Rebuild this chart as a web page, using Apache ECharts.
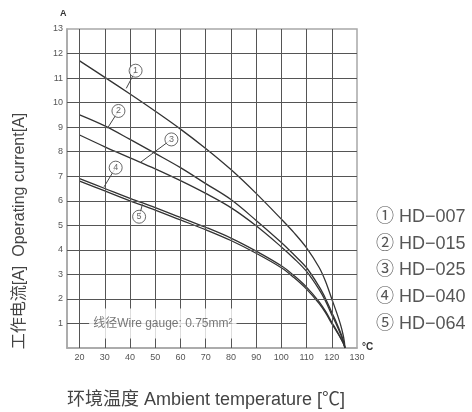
<!DOCTYPE html>
<html>
<head>
<meta charset="utf-8">
<script src="https://cdn.jsdelivr.net/npm/echarts@6/dist/echarts.min.js"></script>
<style>html,body{margin:0;padding:0;background:#fff}#c{width:472px;height:412px}</style>
</head>
<body>
<div id="c"></div>
<script>
// ---- data ----
const seriesNames = ['HD-007', 'HD-015', 'HD-025', 'HD-040', 'HD-064'];
const circled = ['①', '②', '③', '④', '⑤'];
const curve1 = [[20,11.7],[30,11.03],[40,10.35],[50,9.65],[60,8.92],[70,8.13],[80,7.27],[90,6.3],[100,5.25],[105,4.7],[110,4.08],[115,3.28],[117.5,2.72],[120,2.0],[122,1.42],[123.5,0.94],[124.5,0.53],[125,0.24],[125.2,0]];
const curve2 = [[20,9.5],[30,9.05],[40,8.5],[50,7.93],[60,7.35],[70,6.7],[80,6.05],[90,5.2],[100,4.3],[105,3.8],[110,3.27],[115,2.5],[117.5,2.02],[120,1.45],[122,1.0],[123.5,0.62],[124.5,0.33],[125,0.14],[125.2,0]];
const curve3 = [[20,8.68],[30,8.2],[40,7.75],[50,7.3],[60,6.82],[70,6.3],[80,5.72],[90,4.98],[100,4.12],[105,3.65],[110,3.12],[115,2.38],[117.5,1.92],[120,1.35],[122,0.92],[123.5,0.56],[124.5,0.28],[125,0.11],[125.2,0]];
const curve4 = [[20,6.9],[30,6.5],[40,6.1],[50,5.72],[60,5.32],[70,4.92],[80,4.48],[90,3.95],[100,3.35],[105,2.95],[110,2.48],[115,1.88],[117.5,1.5],[120,1.05],[122,0.7],[123.5,0.42],[124.5,0.21],[125,0.08],[125.2,0]];
const curve5 = [[20,6.8],[30,6.4],[40,6.0],[50,5.62],[60,5.22],[70,4.82],[80,4.38],[90,3.86],[100,3.27],[105,2.87],[110,2.4],[115,1.81],[117.5,1.44],[120,0.99],[122,0.66],[123.5,0.4],[124.5,0.2],[125,0.075],[125.2,0]];
const curves = [curve1, curve2, curve3, curve4, curve5];
const xGridValues = [20,30,40,50,60,70,80,90,100,110,120];
const yGridValues = [2,3,4,5,6,7,8,9,10,11,12];
const annotationPoints = [[42.2,11.3],[35.4,9.66],[56.4,8.5],[34.3,7.35],[43.6,5.35]];
const leaderTargets = [[38.5,10.58],[31,8.95],[44.2,7.57],[29.7,6.57],[44.9,5.85]];
const gaugeLine = [[15,1],[110,1]];
const gaugeLabelPoint = [[53,1]];
const gaugeText = '线径Wire gauge: 0.75mm²';

// ---- chart ----
const FONT = 'Liberation Sans, Arial, Noto Sans CJK SC, sans-serif';
const chart = echarts.init(document.getElementById('c'), null, {renderer: 'canvas'});
const borderColor = '#a8a8a8';
const gridColor = '#555';

const series = [];
series.push({
  type: 'line', data: [[15, 0]], showSymbol: false, silent: true, z: 1,
  lineStyle: {opacity: 0},
  markLine: {
    silent: true, symbol: 'none', animation: false,
    label: {show: false},
    emphasis: {disabled: true},
    lineStyle: {color: gridColor, width: 1, type: 'solid'},
    data: [
      ...xGridValues.map(v => ({xAxis: v})),
      ...yGridValues.map(v => ({yAxis: v})),
      [{coord: gaugeLine[0]}, {coord: gaugeLine[1]}]
    ]
  }
});
curves.forEach((c, i) => {
  series.push({
    type: 'line', name: seriesNames[i], data: c, smooth: 0.35,
    showSymbol: false, silent: true, z: 3,
    lineStyle: {color: '#333', width: 1.3}
  });
});
series.push({
  type: 'line', data: [[15, 0]], showSymbol: false, silent: true, z: 4,
  lineStyle: {opacity: 0},
  markLine: {
    silent: true, symbol: 'none', animation: false, label: {show: false},
    emphasis: {disabled: true},
    lineStyle: {color: '#444', width: 1, type: 'solid'},
    data: annotationPoints.map((p, i) => [{coord: p}, {coord: leaderTargets[i]}])
  }
});
series.push({
  type: 'scatter', data: annotationPoints, symbol: 'circle', symbolSize: 13, z: 5, silent: true,
  itemStyle: {color: '#fff', borderColor: '#444', borderWidth: 1},
  label: {show: true, position: 'inside', formatter: p => String(p.dataIndex + 1), fontSize: 9, color: '#444', fontFamily: FONT}
});
series.push({
  type: 'scatter', data: gaugeLabelPoint, symbolSize: 1, z: 6, silent: true,
  itemStyle: {color: 'rgba(0,0,0,0)'},
  label: {show: true, position: 'inside', formatter: gaugeText, fontSize: 12, color: '#555',
    fontFamily: FONT, backgroundColor: '#fff', padding: [9, 4]}
});

const legendRowsY = [217, 244, 270, 297, 324];
const graphics = [
  {type: 'text', left: 60, top: 9, style: {text: 'A', font: 'bold 9px ' + FONT, fill: '#333'}},
  {type: 'text', left: 362, top: 342, style: {text: '°C', font: 'bold 10px ' + FONT, fill: '#333'}},
  {type: 'text', x: 20, y: 231, rotation: Math.PI / 2,
    style: {text: '工作电流[A]  Operating current[A]', font: '16px ' + FONT, fill: '#444', align: 'center', verticalAlign: 'middle'}},
  {type: 'text', x: 206, y: 400,
    style: {text: '环境温度 Ambient temperature [℃]', font: '18px ' + FONT, fill: '#444', align: 'center', verticalAlign: 'middle'}}
];
seriesNames.forEach((n, i) => {
  graphics.push({type: 'text', x: 376, y: legendRowsY[i],
    style: {text: circled[i] + ' HD−' + n.slice(3), font: '18px ' + FONT, fill: '#555', align: 'left', verticalAlign: 'middle'}});
});

chart.setOption({
  animation: false,
  grid: {left: 67, right: 115, top: 29, bottom: 64, show: true, borderColor: borderColor, borderWidth: 1.5},
  xAxis: {
    type: 'value', min: 15, max: 130, interval: 5,
    axisLine: {show: true, lineStyle: {color: borderColor, width: 1.5}},
    axisTick: {show: false}, splitLine: {show: false},
    axisLabel: {formatter: v => (v % 10 === 0 && v >= 20) ? String(v) : '', color: '#555', fontSize: 9, margin: 5, fontFamily: FONT}
  },
  yAxis: {
    type: 'value', min: 0, max: 13, interval: 1,
    axisLine: {show: true, lineStyle: {color: borderColor, width: 1.5}},
    axisTick: {show: false}, splitLine: {show: false},
    axisLabel: {formatter: v => v === 0 ? '' : String(v), color: '#555', fontSize: 9, margin: 4, fontFamily: FONT}
  },
  graphic: graphics,
  series: series
});
</script>
</body>
</html>
